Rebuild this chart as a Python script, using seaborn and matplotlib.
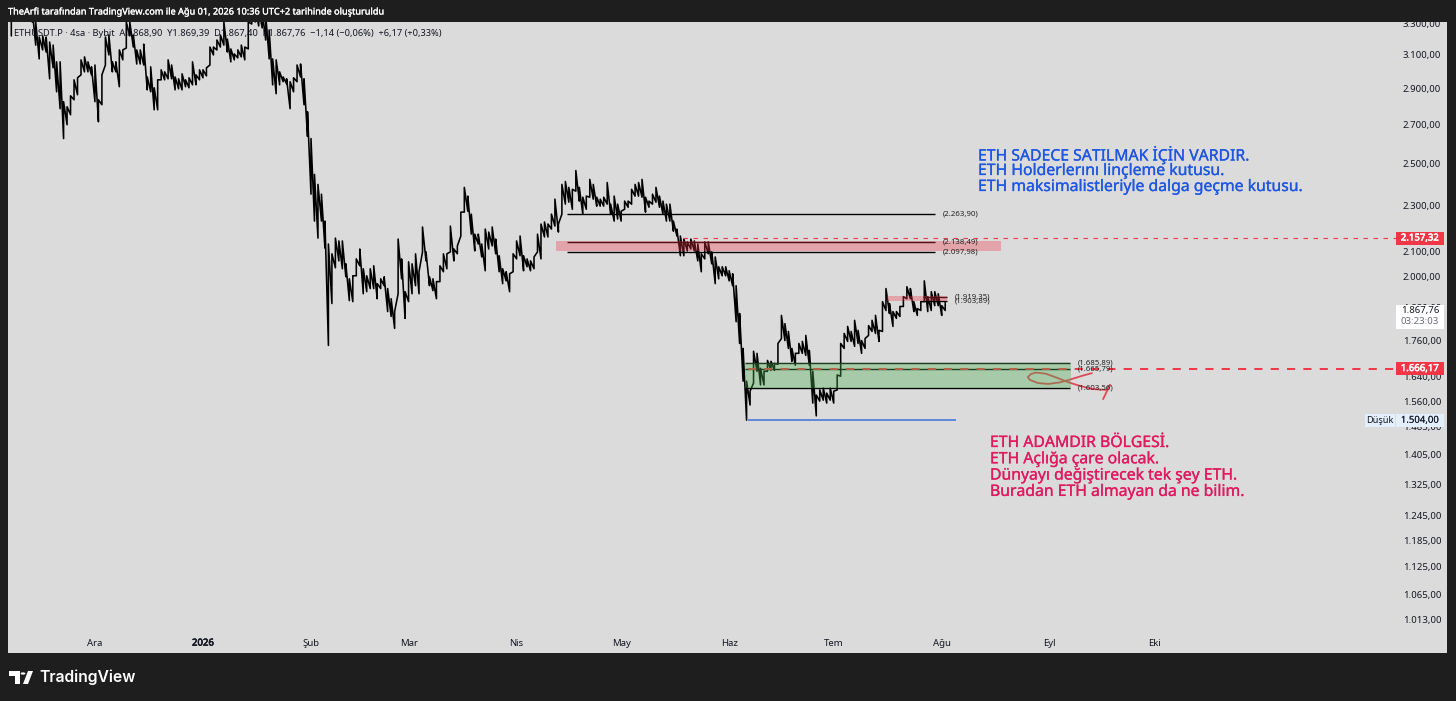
import numpy as np
import pandas as pd
import matplotlib
matplotlib.use("Agg")
import matplotlib.pyplot as plt
import matplotlib.patheffects as pe
import seaborn as sns
from matplotlib.patches import Circle, Polygon, Rectangle
from matplotlib.transforms import IdentityTransform

# days counted from 1 Jan 2026, one high / low pair per day
first_day = -55
highs = [
    3335, 3402, 3423, 3423, 3402, 3402, 3390, 3309, 3212, 3219,
    3212, 3180, 3161, 3058, 3058, 2826, 2798, 2859, 2951, 2963,
    3070, 3088, 3058, 3028, 3039, 2837, 2980, 3212, 3225, 3058,
    3058, 3131, 3131, 3309, 3309, 3225, 3131, 3131, 3167, 2968,
    3028, 2905, 2951, 3010, 2998, 3070, 3039, 2968, 2957, 2986,
    2951, 2963, 3058, 2980, 3010, 3010, 3022, 3149, 3149, 3193,
    3225, 3309, 3199, 3137, 3106, 3131, 3161, 3149, 3309, 3390,
    3402, 3390, 3376, 3355, 3257, 3076, 3070, 2998, 2968, 2957,
    2940, 2963, 3039, 3045, 2957, 2770, 2627, 2447, 2399, 2353,
    2231, 2132, 2091, 2157, 2145, 2145, 2050, 1990, 2002, 2070,
    2111, 2030, 2002, 2030, 2042, 1971, 1990, 1998, 1952, 1913,
    1865, 2153, 2070, 1940, 2058, 2050, 2091, 2018, 2205, 2099,
    1998, 1990, 1979, 2042, 2091, 2091, 2209, 2111, 2124, 2271,
    2385, 2344, 2262, 2174, 2174, 2132, 2196, 2183, 2205, 2153,
    2083, 2030, 2018, 2010, 2091, 2145, 2166, 2083, 2070, 2062,
    2078, 2174, 2218, 2227, 2218, 2262, 2330, 2218, 2399, 2413,
    2385, 2376, 2466, 2385, 2339, 2344, 2423, 2399, 2339, 2330,
    2339, 2408, 2307, 2344, 2307, 2275, 2321, 2321, 2376, 2399,
    2408, 2423, 2339, 2321, 2353, 2385, 2344, 2321, 2307, 2307,
    2231, 2196, 2166, 2153, 2141, 2153, 2145, 2132, 2091, 2141,
    2141, 2099, 2078, 2038, 2038, 2038, 2022, 2010, 1963, 1858,
    1734, 1625, 1593, 1724, 1717, 1667, 1657, 1693, 1690, 1683,
    1751, 1851, 1821, 1793, 1734, 1717, 1751, 1758, 1779, 1727,
    1657, 1581, 1597, 1603, 1587, 1603, 1593, 1645, 1751, 1786,
    1811, 1793, 1833, 1797, 1761, 1768, 1814, 1833, 1851, 1797,
    1902, 1952, 1895, 1865, 1865, 1884, 1921, 1959, 1952, 1902,
    1876, 1902, 1982, 1921, 1940, 1940, 1932, 1887, 1902,
]
lows = [
    3219, 3322, 3355, 3355, 3335, 3322, 3309, 3161, 3076, 3131,
    3118, 2957, 3022, 2882, 2787, 2627, 2700, 2754, 2837, 2865,
    2980, 2998, 2998, 2980, 2826, 2716, 2809, 3039, 3100, 2998,
    2998, 2911, 3070, 3143, 3219, 3149, 3045, 3045, 3039, 2893,
    2882, 2781, 2781, 2951, 2951, 2957, 2957, 2893, 2899, 2893,
    2911, 2905, 2922, 2922, 2951, 2963, 2974, 3039, 3100, 3131,
    3149, 3161, 3118, 3058, 3070, 3082, 3088, 3070, 3137, 3296,
    3309, 3283, 3270, 3193, 3076, 2922, 2871, 2922, 2940, 2928,
    2787, 2882, 2940, 2968, 2809, 2638, 2353, 2231, 2157, 2231,
    2115, 1744, 1895, 2034, 2062, 2030, 1998, 1906, 1902, 2002,
    2042, 1932, 1940, 1952, 1952, 1913, 1952, 1963, 1865, 1847,
    1804, 1932, 1990, 1840, 1902, 1932, 1963, 1932, 2099, 2062,
    1963, 1944, 1913, 1979, 2018, 2030, 2099, 2062, 2091, 2166,
    2271, 2275, 2174, 2103, 2132, 2078, 2022, 2111, 2124, 2091,
    2018, 1971, 1982, 1940, 2018, 2070, 2083, 2022, 2038, 2022,
    2030, 2099, 2070, 2162, 2162, 2196, 2209, 2183, 2262, 2307,
    2316, 2284, 2367, 2321, 2262, 2284, 2339, 2330, 2298, 2298,
    2298, 2307, 2262, 2231, 2240, 2231, 2284, 2293, 2307, 2344,
    2344, 2339, 2271, 2293, 2307, 2316, 2293, 2262, 2231, 2231,
    2187, 2166, 2083, 2083, 2103, 2111, 2103, 2062, 2018, 2070,
    2091, 2050, 1971, 1990, 2002, 2002, 1982, 1963, 1828, 1751,
    1625, 1504, 1550, 1619, 1657, 1613, 1613, 1657, 1660, 1660,
    1680, 1768, 1761, 1734, 1690, 1677, 1717, 1717, 1710, 1677,
    1556, 1517, 1562, 1565, 1556, 1565, 1556, 1597, 1641, 1734,
    1758, 1758, 1741, 1751, 1717, 1734, 1779, 1793, 1786, 1758,
    1793, 1869, 1858, 1811, 1840, 1847, 1884, 1913, 1913, 1865,
    1851, 1869, 1902, 1865, 1869, 1887, 1887, 1851, 1869,
]

month_days = [-31, 0, 31, 59, 90, 120, 151, 181, 212, 243, 273]
month_labels = ["Ara", "2026", "Şub", "Mar", "Nis", "May", "Haz", "Tem", "Ağu", "Eyl", "Eki"]
price_ticks = [3300, 3100, 2900, 2700, 2500, 2300, 2100, 2000, 1880, 1760,
               1640, 1560, 1485, 1405, 1325, 1245, 1185, 1125, 1065, 1013]

# freehand scribble over the green box
scribble_days = [255.1, 252.5, 248.8, 245.9, 242.5, 239.6, 237.3, 236.7, 237.6, 239,
                 241.9, 245.3, 248.2, 251.6, 255.1, 259.4, 260.3, 258.3]
scribble_prices = [1651, 1643, 1630, 1621, 1616, 1619, 1629, 1638, 1648, 1653,
                   1649, 1635, 1622, 1610, 1600, 1597, 1613, 1568]

blue_lines = ["ETH SADECE SATILMAK İÇİN VARDIR.", "ETH Holderlerını linçleme kutusu.",
              "ETH maksimalistleriyle dalga geçme kutusu."]
pink_lines = ["ETH ADAMDIR BÖLGESİ.", "ETH Açlığa çare olacak.",
              "Dünyayı değiştirecek tek şey ETH.", "Buradan ETH almayan da ne bilim."]

FRAME = "#1e1e1e"
PANEL = "#dbdbdb"
RED = "#f23645"
W, H = 1456, 701

sns.set_style("white")
plt.rcParams["font.family"] = "Noto Sans"

fig = plt.figure(figsize=(14.56, 7.01), dpi=100, facecolor=FRAME)
ax = fig.add_axes([8 / W, 1 - 653 / H, (1447 - 8) / W, (653 - 22) / H], facecolor=PANEL)
ax.set_axisbelow(True)

# zigzag between each day's low and high gives the candle scribble
days = np.arange(first_day, first_day + len(highs))
df = pd.DataFrame({
    "day": np.repeat(days, 2),
    "price": np.column_stack([lows, highs]).ravel(),
})
sns.lineplot(data=df, x="day", y="price", sort=False, estimator=None,
             color="black", linewidth=1.15, ax=ax, zorder=2)

ax.set_yscale("log")
ax.set_xlim(-55.95, 357)
ax.set_ylim(948.6, 3309)
ax.set_xlabel("")
ax.set_ylabel("")
ax.yaxis.tick_right()
ax.set_yticks(price_ticks, [f"{p:,.2f}".replace(",", "X").replace(".", ",").replace("X", ".") for p in price_ticks])
ax.minorticks_off()
ax.set_xticks(month_days, month_labels)
ax.tick_params(axis="y", length=0, pad=-31.7, labelsize=6.9, labelcolor="#131722")
ax.tick_params(axis="x", length=0, pad=-10.4, labelsize=6.9, labelcolor="#131722")
for lab in ax.get_yticklabels():
    lab.set_clip_on(True)
    lab.set_clip_box(ax.bbox)
ax.get_xticklabels()[1].set_path_effects([pe.withStroke(linewidth=0.45, foreground="#131722")])
for s in ax.spines.values():
    s.set_visible(False)

# boxes
ax.fill_between([101.3, 229], 2103, 2145, color=RED, alpha=0.33, lw=0, zorder=3)
ax.fill_between([155.5, 249], 1603.56, 1685.89, color="#4caf50", alpha=0.36, lw=0, zorder=3)
ax.fill_between([196.3, 213.5], 1905, 1925, color=RED, alpha=0.33, lw=0, zorder=3)

# horizontal levels with their small labels
level_style = dict(color="black", lw=1, zorder=2.5)
label_style = dict(fontsize=5.6, va="center", color="#222222", zorder=4)
for price, txt in [(2263.90, "(2.263,90)"), (2138.49, "(2.138,49)"), (2097.98, "(2.097,98)")]:
    ax.hlines(price, 104.4, 210, **level_style)
    ax.text(212.3, price, txt, **label_style)
for price, txt in [(1685.89, "(1.685,89)"), (1665.79, "(1.665,79)"), (1603.56, "(1.603,56)")]:
    ax.hlines(price, 155.5, 248.8, **level_style)
    ax.text(251, price, txt, **label_style)
for price, txt in [(1919.35, "(1.919,35)"), (1903.89, "(1.903,89)")]:
    ax.hlines(price, 206.6, 213.5, **level_style)
    ax.text(215.8, price, txt, **label_style)
ax.hlines(1504, 156.4, 216, color="#3f6fd8", lw=1.1, zorder=2.5)

# dashed alert lines
ax.plot([137.7, 342.3], [2157.32, 2157.32], color=RED, lw=0.8, dashes=(4, 5), zorder=2.5)
ax.plot([156.4, 342.3], [1666.17, 1666.17], color=RED, lw=1.4, dashes=(4.2, 4.2), zorder=2.5)

ax.plot(scribble_days, scribble_prices, color="#e0303f", alpha=0.85, lw=1.3, zorder=2.5)

# header text sits under the candles
fig.text(14 / W, 1 - 33 / H,
         "ETHUSDT.P · 4sa · Bybit  A1.868,90  Y1.869,39  D1.867,40  K1.867,76  −1,14 (−0,06%)  +6,17 (+0,33%)",
         fontsize=6.7, color="#131722", va="center", zorder=0.5)

# annotation blocks, thin stroke for the heavier look of the reference
for i, line in enumerate(blue_lines):
    fig.text(978 / W, 1 - (155 + 16 * i) / H, line, color="#1f57e3", fontsize=11.35, va="center",
             path_effects=[pe.withStroke(linewidth=0.2, foreground="#1f57e3")])
for i, line in enumerate(pink_lines):
    fig.text(990 / W, 1 - (443 + 16.3 * i) / H, line, color="#e01a5f", fontsize=11.35, va="center",
             path_effects=[pe.withStroke(linewidth=0.2, foreground="#e01a5f")])


# price tags on the right scale
def price_tag(price, txt, face, color, stroke=0):
    y = ax.transData.transform((0, price))[1]
    ax.add_patch(Rectangle((1396, y - 6.5), 48, 13, transform=IdentityTransform(), color=face, lw=0, zorder=6))
    ax.text(1420, y, txt, transform=IdentityTransform(), ha="center", va="center",
            fontsize=6.9, color=color, zorder=7,
            path_effects=[pe.withStroke(linewidth=stroke, foreground=color)])


price_tag(2157.32, "2.157,32", RED, "white", 0.4)
price_tag(1666.17, "1.666,17", RED, "white", 0.4)
price_tag(1504, "1.504,00", "#e3effd", "#131722")

# last price box, two rows
y_last = ax.transData.transform((0, 1867.76))[1]
ax.add_patch(Rectangle((1396, y_last - 18), 48, 24, transform=IdentityTransform(), color="white", lw=0, zorder=6))
ax.text(1420, y_last, "1.867,76", transform=IdentityTransform(), ha="center", va="center",
        fontsize=6.9, color="#131722", zorder=7)
ax.text(1420, y_last - 11, "03:23:03", transform=IdentityTransform(), ha="center", va="center",
        fontsize=6.9, color="#6a6d78", zorder=7)

# "Düşük" tag next to the scale
y_low = ax.transData.transform((0, 1504))[1]
ax.add_patch(Rectangle((1365, y_low - 6.5), 30, 13, transform=IdentityTransform(), color="#e3effd", lw=0, zorder=6))
ax.text(1380, y_low, "Düşük", transform=IdentityTransform(), ha="center", va="center",
        fontsize=6.6, color="#131722", zorder=7)

# top and bottom bars
fig.text(8 / W, 1 - 12 / H, "TheArfi tarafından TradingView.com ile Ağu 01, 2026 10:36 UTC+2 tarihinde oluşturuldu",
         color="white", fontsize=6.6, va="center",
         path_effects=[pe.withStroke(linewidth=0.2, foreground="white")])
fig.text(39 / W, 1 - 677 / H, "TradingView", color="white", fontsize=11.3, fontweight="semibold",
         family="Inter", va="center")


def px(x, y):
    return (x / W, 1 - y / H)


logo = [
    Polygon([px(9, 671), px(20, 671), px(20, 684), px(15, 684), px(15, 676), px(9, 676)], closed=True),
    Circle(px(23, 673.5), 2.4 / W),
    Polygon([px(28, 671), px(33, 671), px(28, 684), px(23, 684)], closed=True),
]
for shape in logo:
    shape.set_facecolor("white")
    shape.set_edgecolor("none")
    shape.set_transform(fig.transFigure)
    fig.add_artist(shape)

fig.savefig("out.png", dpi=100, facecolor=FRAME)
